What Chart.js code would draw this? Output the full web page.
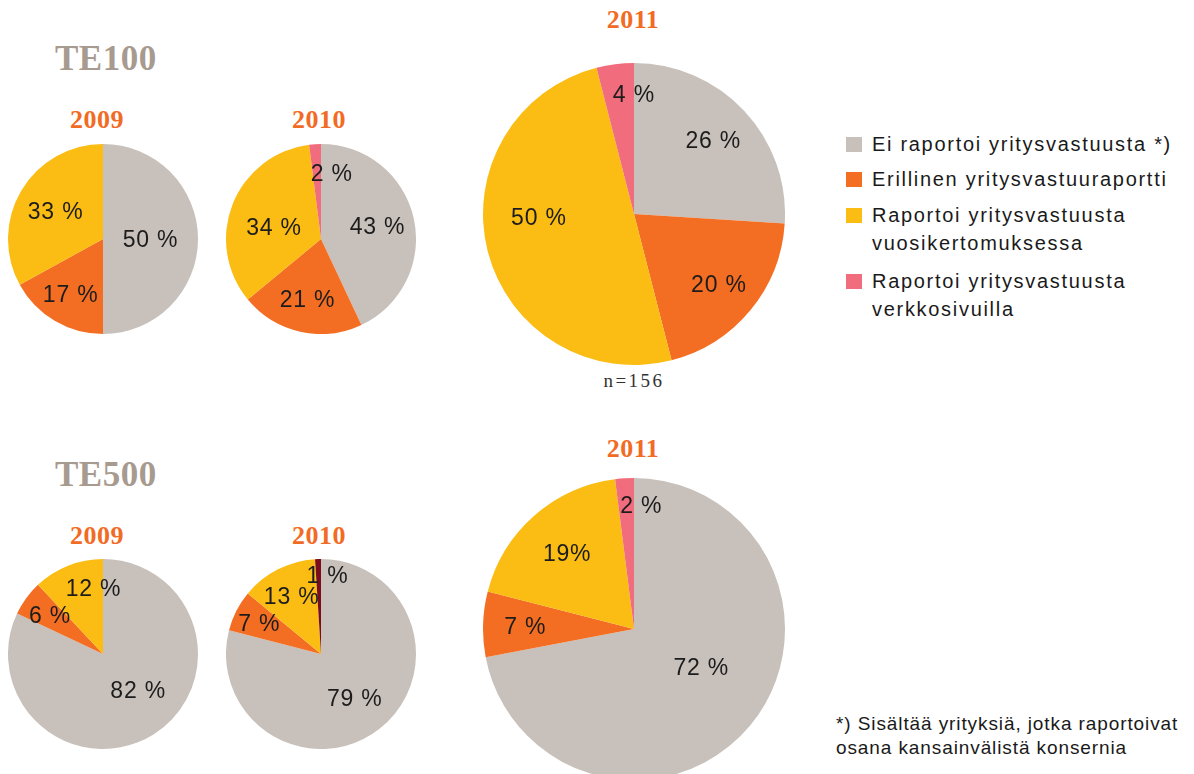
<!DOCTYPE html>
<html>
<head>
<meta charset="utf-8">
<script src="https://cdn.jsdelivr.net/npm/chart.js@4.4.0/dist/chart.umd.min.js"></script>
<style>
body{margin:0;width:1194px;height:774px;overflow:hidden;background:#fff;position:relative;font-family:"Liberation Sans",Arial,sans-serif;}
canvas,.abs{position:absolute;}
.group{font-family:"Liberation Serif",serif;font-weight:bold;font-size:35px;line-height:35px;color:#a79a8f;letter-spacing:0.5px;}
.year{font-family:"Liberation Serif",serif;font-weight:bold;font-size:26px;line-height:26px;color:#f26b24;width:120px;text-align:center;letter-spacing:0.5px;}
.nval{font-family:"Liberation Serif",serif;font-size:19px;line-height:19px;color:#333;width:120px;text-align:center;letter-spacing:2.5px;}
.leg{left:872px;width:330px;font-size:20px;line-height:28px;letter-spacing:1.7px;color:#1a1a1a;}
.sq{left:846px;width:16px;height:15px;}
.note{left:836px;font-size:19px;line-height:24px;letter-spacing:0.9px;color:#1a1a1a;}
</style>
</head>
<body>
<div class="abs group" style="left:55px;top:41px">TE100</div>
<div class="abs group" style="left:55px;top:457px">TE500</div>

<div class="abs year" style="left:37px;top:107px">2009</div>
<div class="abs year" style="left:259px;top:107px">2010</div>
<div class="abs year" style="left:573px;top:7px">2011</div>
<div class="abs year" style="left:37px;top:523px">2009</div>
<div class="abs year" style="left:259px;top:523px">2010</div>
<div class="abs year" style="left:573px;top:436px">2011</div>
<div class="abs nval" style="left:574px;top:371px">n=156</div>

<canvas id="a2009" width="190" height="190" style="left:8px;top:144px"></canvas>
<canvas id="a2010" width="190" height="190" style="left:226px;top:144px"></canvas>
<canvas id="a2011" width="302" height="302" style="left:483px;top:63px"></canvas>
<canvas id="b2009" width="190" height="190" style="left:8px;top:559px"></canvas>
<canvas id="b2010" width="190" height="190" style="left:226px;top:559px"></canvas>
<canvas id="b2011" width="302" height="302" style="left:483px;top:478px"></canvas>

<div id="legend"></div>

<div class="abs note" style="top:712px">*) Sisältää yrityksiä, jotka raportoivat<br>osana kansainvälistä konsernia</div>

<script>
// luokat ja arvot (%)
var categories = ['Ei raportoi yritysvastuusta *)', 'Erillinen yritysvastuuraportti', 'Raportoi yritysvastuusta vuosikertomuksessa', 'Raportoi yritysvastuusta verkkosivuilla'];
var te100_2009 = [50, 17, 33];
var te100_2010 = [43, 21, 34, 2];
var te100_2011 = [26, 20, 50, 4];
var te500_2009 = [82, 6, 12];
var te500_2010 = [79, 7, 13, 1];
var te500_2011 = [72, 7, 19, 2];

var colors = ['#c8c0ba', '#f36e22', '#fbbd13', '#f16c7c'];
var colors500_2010 = ['#c8c0ba', '#f36e22', '#fbbd13', '#7b0c1c'];

var pieLabels = {
  id: 'pieLabels',
  afterDatasetsDraw: function(chart){
    var ctx = chart.ctx;
    var opts = chart.options.plugins.pieLabels;
    var values = chart.data.datasets[0].data;
    var meta = chart.getDatasetMeta(0);
    ctx.save();
    ctx.fillStyle = '#1c1c1c';
    ctx.font = '23px "Liberation Sans", Arial, sans-serif';
    ctx.letterSpacing = '0.8px';
    ctx.textBaseline = 'alphabetic';
    meta.data.forEach(function(arc, i){
      var at = (opts.at && opts.at[i] != null) ? opts.at[i] : 0.5;
      var ang = arc.startAngle + (arc.endAngle - arc.startAngle) * at;
      var r = arc.outerRadius * opts.dist[i];
      var x = arc.x + Math.cos(ang) * r;
      var y = arc.y + Math.sin(ang) * r + 8;
      var txt = values[i] + ((opts.tight && opts.tight[i]) ? '%' : ' %');
      if (values[i] < 5) {
        // pienet siivut: teksti alkaa siivun kohdalta
        ctx.textAlign = 'left';
        x -= (values[i] < 2 ? 12 : 6);
      } else {
        ctx.textAlign = 'center';
      }
      ctx.fillText(txt, x, y);
    });
    ctx.restore();
  }
};

function makePie(id, values, cols, labelOpts){
  var ctx = document.getElementById(id).getContext('2d');
  return new Chart(ctx, {
    type: 'pie',
    data: {
      labels: categories.slice(0, values.length),
      datasets: [{
        data: values,
        backgroundColor: cols.slice(0, values.length),
        borderWidth: 0
      }]
    },
    options: {
      responsive: false,
      animation: false,
      devicePixelRatio: 1,
      layout: { padding: 0 },
      plugins: {
        legend: { display: false },
        tooltip: { enabled: false },
        pieLabels: labelOpts
      }
    },
    plugins: [pieLabels]
  });
}

makePie('a2009', te100_2009, colors, { dist: [0.5, 0.67, 0.58] });
makePie('a2010', te100_2010, colors, { dist: [0.61, 0.65, 0.51, 0.7], at: [0.5, 0.5, 0.44, 0.5] });
makePie('a2011', te100_2011, colors, { dist: [0.72, 0.73, 0.63, 0.8], at: [0.5, 0.5, 0.57, 0.5] });
makePie('b2009', te500_2009, colors, { dist: [0.53, 0.69, 0.7], at: [0.46, 0.5, 0.81] });
makePie('b2010', te500_2010, colors500_2010, { dist: [0.58, 0.73, 0.68, 0.83] });
makePie('b2011', te500_2011, colors, { dist: [0.51, 0.72, 0.67, 0.82], at: [0.46, 0.5, 0.5, 0.5], tight: [0, 0, 1, 0] });

// selite
var legTops = [130, 165, 201, 267];
var legBox = document.getElementById('legend');
categories.forEach(function(c, i){
  var sq = document.createElement('div');
  sq.className = 'abs sq';
  sq.style.top = (legTops[i] + 7) + 'px';
  sq.style.background = colors[i];
  legBox.appendChild(sq);
  var t = document.createElement('div');
  t.className = 'abs leg';
  t.style.top = legTops[i] + 'px';
  t.textContent = c;
  legBox.appendChild(t);
});
</script>
</body>
</html>
